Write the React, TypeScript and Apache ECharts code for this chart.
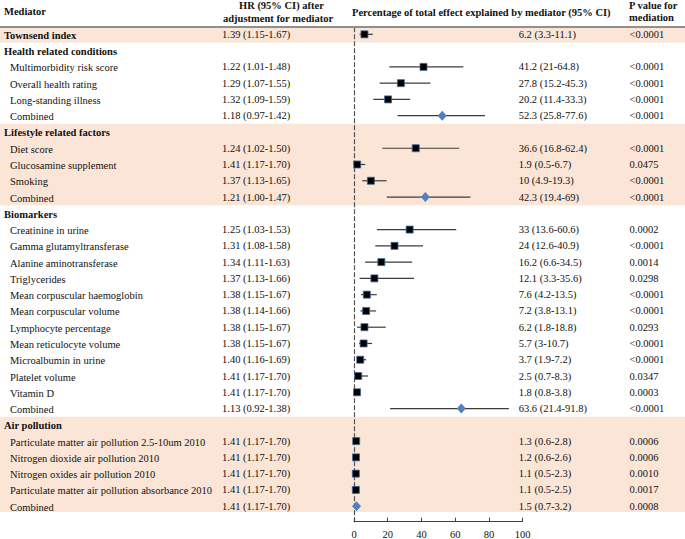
import React, { useEffect, useRef } from "react";
import * as echarts from "echarts";

const mediators = [
  "Townsend index",
  "Health related conditions",
  "Multimorbidity risk score",
  "Overall health rating",
  "Long-standing illness",
  "Combined",
  "Lifestyle related factors",
  "Diet score",
  "Glucosamine supplement",
  "Smoking",
  "Combined",
  "Biomarkers",
  "Creatinine in urine",
  "Gamma glutamyltransferase",
  "Alanine aminotransferase",
  "Triglycerides",
  "Mean corpuscular haemoglobin",
  "Mean corpuscular volume",
  "Lymphocyte percentage",
  "Mean reticulocyte volume",
  "Microalbumin in urine",
  "Platelet volume",
  "Vitamin D",
  "Combined",
  "Air pollution",
  "Particulate matter air pollution 2.5-10um 2010",
  "Nitrogen dioxide air pollution 2010",
  "Nitrogen oxides air pollution 2010",
  "Particulate matter air pollution absorbance 2010",
  "Combined",
];
const boldRows = [0, 1, 6, 11, 24];
const combinedRows = [5, 10, 23, 29];

const hr = [1.39, null, 1.22, 1.29, 1.32, 1.18, null, 1.24, 1.41, 1.37, 1.21, null, 1.25, 1.31, 1.34, 1.37, 1.38, 1.38, 1.38, 1.38, 1.40, 1.41, 1.41, 1.13, null, 1.41, 1.41, 1.41, 1.41, 1.41];
const hrLo = [1.15, null, 1.01, 1.07, 1.09, 0.97, null, 1.02, 1.17, 1.13, 1.00, null, 1.03, 1.08, 1.11, 1.13, 1.15, 1.14, 1.15, 1.15, 1.16, 1.17, 1.17, 0.92, null, 1.17, 1.17, 1.17, 1.17, 1.17];
const hrHi = [1.67, null, 1.48, 1.55, 1.59, 1.42, null, 1.50, 1.70, 1.65, 1.47, null, 1.53, 1.58, 1.63, 1.66, 1.67, 1.66, 1.67, 1.67, 1.69, 1.70, 1.70, 1.38, null, 1.70, 1.70, 1.70, 1.70, 1.70];

const pct = [6.2, null, 41.2, 27.8, 20.2, 52.3, null, 36.6, 1.9, 10, 42.3, null, 33, 24, 16.2, 12.1, 7.6, 7.2, 6.2, 5.7, 3.7, 2.5, 1.8, 63.6, null, 1.3, 1.2, 1.1, 1.1, 1.5];
const pctLo = [3.3, null, 21, 15.2, 11.4, 25.8, null, 16.8, 0.5, 4.9, 19.4, null, 13.6, 12.6, 6.6, 3.3, 4.2, 3.8, 1.8, 3, 1.9, 0.7, 0.8, 21.4, null, 0.6, 0.6, 0.5, 0.5, 0.7];
const pctHi = [11.1, null, 64.8, 45.3, 33.3, 77.6, null, 62.4, 6.7, 19.3, 69, null, 60.6, 40.9, 34.5, 35.6, 13.5, 13.1, 18.8, 10.7, 7.2, 8.3, 3.8, 91.8, null, 2.8, 2.6, 2.3, 2.5, 3.2];

const pValues = ["<0.0001", "", "<0.0001", "<0.0001", "<0.0001", "<0.0001", "", "<0.0001", "0.0475", "<0.0001", "<0.0001", "", "0.0002", "<0.0001", "0.0014", "0.0298", "<0.0001", "<0.0001", "0.0293", "<0.0001", "<0.0001", "0.0347", "0.0003", "<0.0001", "", "0.0006", "0.0006", "0.0010", "0.0017", "0.0008"];

const xTicks = [0, 20, 40, 60, 80, 100];

const FONT = '"Liberation Serif", "Times New Roman", serif';
const FS = 10.5;
const TXT = "#111";
const SHADE = "#fbe5d6";

const W = 685;
const H = 539;
const PLOT_LEFT = 354;
const PLOT_RIGHT = 162.3;
const ROW_TOP = 26.2;
const ROW_H = 16.27;
const AXIS_Y = 521.7;

export default function App() {
  const ref = useRef<HTMLDivElement>(null);

  useEffect(() => {
    if (!ref.current) return;
    const chart = echarts.init(ref.current, null, { renderer: "svg" });
    const n = mediators.length;
    const idx = mediators.map((_, i) => String(i));
    const rowTop = (i: number) => ROW_TOP + i * ROW_H;

    const ciData: any[] = [];
    const sqData: any[] = [];
    const dmData: any[] = [];
    for (let i = 0; i < n; i++) {
      if (pct[i] == null) continue;
      ciData.push([pctLo[i], pctHi[i], i]);
      if (combinedRows.includes(i)) dmData.push([pct[i], i]);
      else sqData.push([pct[i], i]);
    }

    const catAxisBase = {
      gridIndex: 0,
      type: "category",
      inverse: true,
      data: idx,
      axisLine: { show: false, onZero: false },
      axisTick: { show: false },
      splitLine: { show: false },
    };

    const headerText = (text: string, x: number, y: number) => ({
      type: "text",
      x,
      y,
      z: 10,
      style: {
        text,
        fill: TXT,
        font: `bold ${FS}px ${FONT}`,
        align: "left",
        verticalAlign: "middle",
      },
    });

    const option: any = {
      animation: false,
      backgroundColor: "#ffffff",
      graphic: [
        { type: "rect", z: -1, shape: { x: 0, y: 28, width: W, height: rowTop(1) - 28 }, style: { fill: SHADE } },
        { type: "rect", z: -1, shape: { x: 0, y: rowTop(6), width: W, height: rowTop(11) - rowTop(6) }, style: { fill: SHADE } },
        { type: "rect", z: -1, shape: { x: 0, y: rowTop(24), width: W, height: 512 - rowTop(24) }, style: { fill: SHADE } },
        { type: "rect", z: 5, shape: { x: 0, y: 26, width: W, height: 2 }, style: { fill: "#8f8f8f" } },
        headerText("Mediator", 4, 11),
        headerText("HR (95% CI) after", 239, 5.5),
        headerText("adjustment for mediator", 223, 18),
        headerText("Percentage of total effect explained by mediator (95% CI)", 352, 12),
        headerText("P value for", 629, 5),
        headerText("mediation", 629, 17.5),
      ],
      grid: [
        { left: PLOT_LEFT, right: PLOT_RIGHT, top: ROW_TOP, height: ROW_H * n, containLabel: false, outerBoundsMode: "none" },
        { left: PLOT_LEFT, right: PLOT_RIGHT, top: 28, bottom: H - AXIS_Y, containLabel: false, outerBoundsMode: "none" },
      ],
      xAxis: [
        { gridIndex: 0, type: "value", min: 0, max: 100, show: false, splitLine: { show: false } },
        {
          gridIndex: 1,
          type: "value",
          min: xTicks[0],
          max: xTicks[xTicks.length - 1],
          interval: 20,
          axisLine: { show: true, lineStyle: { color: "#404040", width: 1 } },
          axisTick: { show: true, inside: true, length: 4, lineStyle: { color: "#404040" } },
          axisLabel: { margin: 7, fontFamily: FONT, fontSize: FS, color: TXT },
          splitLine: { show: false },
        },
      ],
      yAxis: [
        {
          ...catAxisBase,
          position: "left",
          axisLabel: {
            interval: 0,
            align: "left",
            margin: PLOT_LEFT - 4,
            padding: [2, 0, 0, 0],
            formatter: (_v: string, i: number) =>
              boldRows.includes(i) ? `{b|${mediators[i]}}` : `{n|${mediators[i]}}`,
            rich: {
              b: { fontFamily: FONT, fontSize: FS, fontWeight: "bold", color: TXT },
              n: { fontFamily: FONT, fontSize: FS, color: TXT, padding: [0, 0, 0, 6] },
            },
          },
        },
        {
          ...catAxisBase,
          position: "left",
          axisLabel: {
            interval: 0,
            align: "left",
            margin: PLOT_LEFT - 222,
            fontFamily: FONT,
            fontSize: FS,
            color: TXT,
            formatter: (_v: string, i: number) =>
              hr[i] == null ? "" : `${hr[i]!.toFixed(2)} (${hrLo[i]!.toFixed(2)}-${hrHi[i]!.toFixed(2)})`,
          },
        },
        {
          ...catAxisBase,
          position: "right",
          axisLabel: {
            interval: 0,
            align: "left",
            margin: -4,
            padding: [6, 0, 0, 0],
            fontFamily: FONT,
            fontSize: FS,
            color: TXT,
            formatter: (_v: string, i: number) =>
              pct[i] == null ? "" : `${pct[i]} (${pctLo[i]}-${pctHi[i]})`,
          },
        },
        {
          ...catAxisBase,
          position: "right",
          axisLabel: {
            interval: 0,
            align: "left",
            margin: 629.5 - (W - PLOT_RIGHT),
            fontFamily: FONT,
            fontSize: FS,
            color: TXT,
            formatter: (_v: string, i: number) => pValues[i],
          },
        },
        {
          gridIndex: 1,
          type: "value",
          min: 0,
          max: 1,
          position: "left",
          axisLine: { show: true, lineStyle: { color: "#555", width: 1.2, type: [4, 3] } },
          axisTick: { show: false },
          axisLabel: { show: false },
          splitLine: { show: false },
        },
      ],
      series: [
        {
          type: "custom",
          xAxisIndex: 0,
          yAxisIndex: 0,
          data: ciData,
          encode: { x: [0, 1], y: 2 },
          renderItem: (_p: any, api: any) => {
            const a = api.coord([api.value(0), api.value(2)]);
            const b = api.coord([api.value(1), api.value(2)]);
            return {
              type: "line",
              shape: { x1: a[0], y1: a[1], x2: b[0], y2: b[1] },
              style: { stroke: "#3c3c3c", lineWidth: 1.2 },
            };
          },
          z: 2,
        },
        {
          type: "scatter",
          xAxisIndex: 0,
          yAxisIndex: 0,
          data: sqData,
          symbol: "rect",
          symbolSize: 7,
          itemStyle: { color: "#000", borderColor: "#3d6a9a", borderWidth: 0.8, opacity: 1 },
          z: 3,
        },
        {
          type: "scatter",
          xAxisIndex: 0,
          yAxisIndex: 0,
          data: dmData,
          symbol: "diamond",
          symbolSize: [9, 10],
          itemStyle: { color: "#4f81bd", opacity: 1 },
          z: 3,
        },
      ],
    };

    chart.setOption(option);
    return () => chart.dispose();
  }, []);

  return (
    <div
      ref={ref}
      style={{ position: "fixed", left: 0, top: 0, width: W, height: H, background: "#fff" }}
    />
  );
}
